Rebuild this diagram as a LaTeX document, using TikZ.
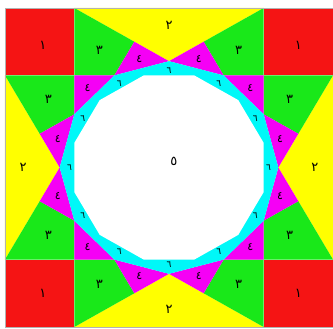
\documentclass[tikz,border=0pt]{standalone}
\usepackage{fontspec}
\newfontfamily\arabicfont[Script=Arabic]{DejaVu Sans}
\usetikzlibrary{calc}
\definecolor{cRed}{RGB}{245,20,20}
\definecolor{cYel}{RGB}{255,255,0}
\definecolor{cGrn}{RGB}{25,232,25}
\definecolor{cMag}{RGB}{245,0,245}
\definecolor{cCya}{RGB}{0,248,248}
\begin{document}
\begin{tikzpicture}[x={(328pt,0pt)},y={(0pt,-319pt)},
  lab/.style={font=\arabicfont\fontsize{13}{15}\selectfont, inner sep=0pt},
  smalllab/.style={font=\arabicfont\fontsize{9}{10}\selectfont, inner sep=0pt}]
\useasboundingbox (-0.015244,-0.025078) rectangle (1,1.006270);
\fill[white] (-0.015244,-0.025078) rectangle (1,1.006270);
\pgfmathsetmacro\kc{0.5-0.5/sqrt(3)}
\pgfmathsetmacro\kd{1-\kc}
\pgfmathsetmacro\rP{1/3}
\pgfmathsetmacro\rQ{sqrt(2)*0.5/sqrt(3)}
\pgfmathsetmacro\rW{0.5/sqrt(3)/cos(15)}
\foreach \k in {0,...,11}{
  \coordinate (P\k) at ({0.5+\rP*cos(30*\k)},{0.5-\rP*sin(30*\k)});
  \coordinate (Q\k) at ({0.5+\rQ*cos(30*\k+15)},{0.5-\rQ*sin(30*\k+15)});
  \coordinate (W\k) at ({0.5+\rW*cos(30*\k+15)},{0.5-\rW*sin(30*\k+15)});
}
% edge points
\coordinate (Ta) at (\kc,0);  \coordinate (Tb) at (\kd,0);
\coordinate (Ba) at (\kc,1);  \coordinate (Bb) at (\kd,1);
\coordinate (La) at (0,\kc);  \coordinate (Lb) at (0,\kd);
\coordinate (Ra) at (1,\kc);  \coordinate (Rb) at (1,\kd);
% red corners
\fill[cRed] (0,0) rectangle (\kc,\kc);
\fill[cRed] (\kd,0) rectangle (1,\kc);
\fill[cRed] (0,\kd) rectangle (\kc,1);
\fill[cRed] (\kd,\kd) rectangle (1,1);
% yellow
\fill[cYel] (Ta) -- (Tb) -- (P3) -- cycle;
\fill[cYel] (Ra) -- (Rb) -- (P0) -- cycle;
\fill[cYel] (Ba) -- (Bb) -- (P9) -- cycle;
\fill[cYel] (La) -- (Lb) -- (P6) -- cycle;
% green
\fill[cGrn] (Ta) -- (Q3) -- (P4) -- (Q4) -- cycle;
\fill[cGrn] (La) -- (Q5) -- (P5) -- (Q4) -- cycle;
\fill[cGrn] (Ra) -- (Q0) -- (P1) -- (Q1) -- cycle;
\fill[cGrn] (Tb) -- (Q2) -- (P2) -- (Q1) -- cycle;
\fill[cGrn] (Lb) -- (Q6) -- (P7) -- (Q7) -- cycle;
\fill[cGrn] (Ba) -- (Q8) -- (P8) -- (Q7) -- cycle;
\fill[cGrn] (Bb) -- (Q9) -- (P10) -- (Q10) -- cycle;
\fill[cGrn] (Rb) -- (Q11) -- (P11) -- (Q10) -- cycle;
% magenta
\foreach \k in {0,...,11}{
  \pgfmathtruncatemacro\kn{mod(\k+1,12)}
  \fill[cMag] (P\k) -- (Q\k) -- (P\kn) -- cycle;
}
% cyan ring and white dodecagon
\fill[cCya] (P0) -- (P1) -- (P2) -- (P3) -- (P4) -- (P5) -- (P6) -- (P7) -- (P8) -- (P9) -- (P10) -- (P11) -- cycle;
\fill[white] (W0) -- (W1) -- (W2) -- (W3) -- (W4) -- (W5) -- (W6) -- (W7) -- (W8) -- (W9) -- (W10) -- (W11) -- cycle;
\draw[black!30, line width=0.3pt] (0,0) rectangle (1,1);
% labels
\node[lab] (r1) at ({\kc/2+0.01},{\kc/2+0.01}) {١};
\node[lab] (r2) at ({(1+\kd)/2},{\kc/2+0.01}) {١};
\node[lab] (r3) at ({\kc/2+0.01},{(1+\kd)/2}) {١};
\node[lab] (r4) at ({(1+\kd)/2},{(1+\kd)/2}) {١};
\node[lab] (y1) at (barycentric cs:Ta=1,Tb=1,P3=1) {٢};
\node[lab] (y2) at (barycentric cs:Ra=1,Rb=1,P0=1) {٢};
\node[lab] (y3) at (barycentric cs:Ba=1,Bb=1,P9=1) {٢};
\node[lab] (y4) at (barycentric cs:La=1,Lb=1,P6=1) {٢};
\node[lab] (g1) at (barycentric cs:Ta=1,Q3=1,P4=1,Q4=1) {٣};
\node[lab] (g2) at (barycentric cs:La=1,Q5=1,P5=1,Q4=1) {٣};
\node[lab] (g3) at (barycentric cs:Ra=1,Q0=1,P1=1,Q1=1) {٣};
\node[lab] (g4) at (barycentric cs:Tb=1,Q2=1,P2=1,Q1=1) {٣};
\node[lab] (g5) at (barycentric cs:Lb=1,Q6=1,P7=1,Q7=1) {٣};
\node[lab] (g6) at (barycentric cs:Ba=1,Q8=1,P8=1,Q7=1) {٣};
\node[lab] (g7) at (barycentric cs:Bb=1,Q9=1,P10=1,Q10=1) {٣};
\node[lab] (g8) at (barycentric cs:Rb=1,Q11=1,P11=1,Q10=1) {٣};
\foreach \k in {0,...,11}{
  \pgfmathtruncatemacro\kn{mod(\k+1,12)}
  \pgfmathtruncatemacro\km{mod(\k+11,12)}
  \node[lab,font=\arabicfont\fontsize{11}{13}\selectfont] (m\k) at (barycentric cs:P\k=1,Q\k=1,P\kn=1) {٤};
  \node[smalllab] (c\k) at (barycentric cs:W\km=1,P\k=1,W\k=1) {٦};
}
\node[lab] (w) at (0.515,0.48) {٥};
\end{tikzpicture}
\end{document}
